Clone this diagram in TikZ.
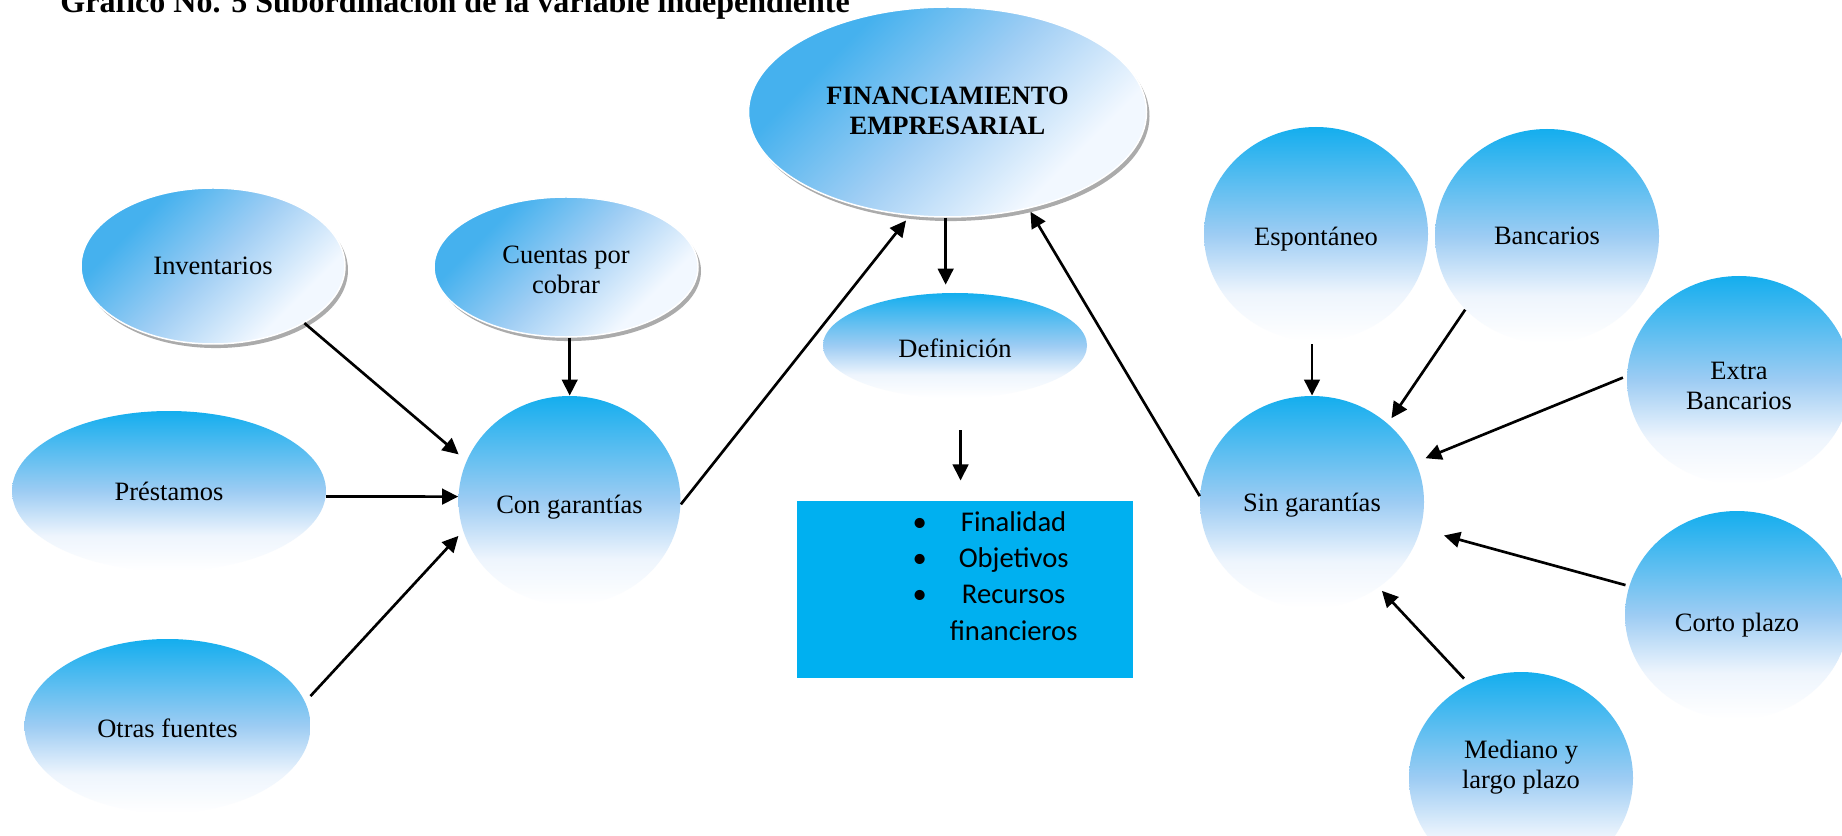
\documentclass[tikz,border=0pt]{standalone}
\usepackage{fontspec}
\setmainfont{Liberation Serif}
\newfontfamily\boxfont{Carlito}
\usetikzlibrary{shapes.geometric,arrows.meta,shadows,calc}
\definecolor{dA}{HTML}{45B1EE}
\definecolor{dM}{HTML}{A0CEF4}
\definecolor{dB}{HTML}{F2F8FF}
\definecolor{vA}{HTML}{14AEEE}
\definecolor{vM}{HTML}{9DCCF3}
\definecolor{vL}{HTML}{EEF5FD}
\definecolor{vB}{HTML}{FFFFFF}
\definecolor{boxc}{HTML}{00B0F0}
\pgfdeclareverticalshading{vshade}{100bp}{color(0bp)=(vB); color(25bp)=(vB); color(36bp)=(vL); color(50bp)=(vM); color(75bp)=(vA); color(100bp)=(vA)}
\pgfdeclareverticalshading{dshade}{100bp}{color(0bp)=(dB); color(30bp)=(dB); color(50bp)=(dM); color(70bp)=(dA); color(100bp)=(dA)}
\newcommand{\mynodefont}{\fontsize{12.4}{14}\selectfont}
\newcommand{\shiftt}[2]{\raisebox{#1}[\height][\depth]{\begin{tabular}{@{}c@{}}#2\end{tabular}}}
\begin{document}
\begin{tikzpicture}[x=0.4682pt, y=-0.4682pt,
  bubble/.style={ellipse, inner sep=0pt, align=center, font=\mynodefont},
  sz/.style 2 args={minimum width=#1*0.9364pt, minimum height=#2*0.9364pt},
  vbub/.style={bubble, shading=vshade},
  dbub/.style={bubble, shading=dshade, shading angle=45, draw=white, line width=0.7pt,
    drop shadow={shadow xshift=1.4pt, shadow yshift=-1.9pt, fill=black!55, opacity=0.6}},
  arr/.style={-{Triangle[length=7.5pt,width=7.3pt]}, line width=1.25pt}
]
\clip (0,0) rectangle (1842,836);
\fill[white] (0,0) rectangle (1842,836);

% title
\node[anchor=base west, inner sep=0pt, font=\bfseries\fontsize{15}{18}\selectfont] (title) at (60,13)
  {Gráfico No. 5 Subordinación de la variable independiente};

% nodes
\node[dbub, sz={199}{105}, font=\mynodefont\bfseries] (fin) at (947.5,112) {\shiftt{-0.6pt}{FINANCIAMIENTO\\EMPRESARIAL}};
\node[dbub, sz={132}{78}] (inv) at (213,266) {\shiftt{-1pt}{Inventarios}};
\node[dbub, sz={132}{70}] (cxc) at (566,267) {\shiftt{-2.5pt}{Cuentas por\\cobrar}};
\node[vbub, sz={157}{80}] (pre) at (169,491) {\shiftt{-1.6pt}{Préstamos}};
\node[vbub, sz={143}{87}] (otr) at (167.5,726) {\shiftt{-2.7pt}{Otras fuentes}};
\node[vbub, sz={111}{104.5}] (con) at (569.5,500.5) {\shiftt{-3.5pt}{Con garantías}};
\node[vbub, sz={132}{52.5}] (def) at (955,345.5) {\shiftt{-2.6pt}{Definición}};
\node[vbub, sz={112}{107}] (esp) at (1316,234) {\shiftt{-2.6pt}{Espontáneo}};
\node[vbub, sz={112}{107}] (ban) at (1547,236) {\shiftt{-1.2pt}{Bancarios}};
\node[vbub, sz={112}{104}] (ext) at (1739,380) {\shiftt{-4.1pt}{Extra\\Bancarios}};
\node[vbub, sz={112}{106}] (sin) at (1312,502) {\shiftt{-1.6pt}{Sin garantías}};
\node[vbub, sz={112}{104}] (cor) at (1737,615) {\shiftt{-5pt}{Corto plazo}};
\node[vbub, sz={112}{106}] (med) at (1521,778) {\shiftt{5pt}{Mediano y\\largo plazo}};

% box
\node[fill=boxc, minimum width=336*0.4682pt, minimum height=177*0.4682pt, inner sep=0pt] (box) at (965,589.5) {};
\node[inner sep=0pt, font=\boxfont\fontsize{13.4}{17}\selectfont] (boxtxt) at (995,578.5)
  {\begin{tabular}{@{}c@{\hspace{10.8pt}}c@{}} •&Finalidad\\ •&Objetivos\\ •&Recursos\\ &financieros\end{tabular}};

% connectors left
\draw[arr, shorten >=4.7pt] (inv.-32) -- (con.159);
\draw[arr] (cxc.-87) -- (cxc.-87 |- con.north);
\draw[arr] (pre.-2) -- (con.178);
\draw[arr, shorten <=3.6pt, shorten >=3.1pt] (otr.10) -- (con.196);
\draw[arr, shorten >=2.8pt] (con.-2) -- (fin.250);
\draw[arr, shorten >=3.7pt] (fin.269) -- (fin.269 |- def.north);
\draw[arr, shorten <=15pt, shorten >=9.4pt] (def.-84) -- (def.-84 |- box.north);

% connectors right
\draw[arr, shorten <=1.4pt] (sin.north |- esp.south) -- (sin.north);
\draw[arr, shorten >=3pt] (ban.222) -- (sin.46);
\draw[arr, shorten <=1.9pt, shorten >=4.7pt] (ext.178) -- (sin.21);
\draw[arr, shorten <=1.7pt, shorten >=11.3pt] (cor.165) -- (sin.-14);
\draw[arr, shorten <=3.3pt, shorten >=2.1pt] (med.119) -- (sin.-52);
\draw[arr, shorten >=1.7pt] (sin.177) -- (fin.-50);
\end{tikzpicture}
\end{document}
